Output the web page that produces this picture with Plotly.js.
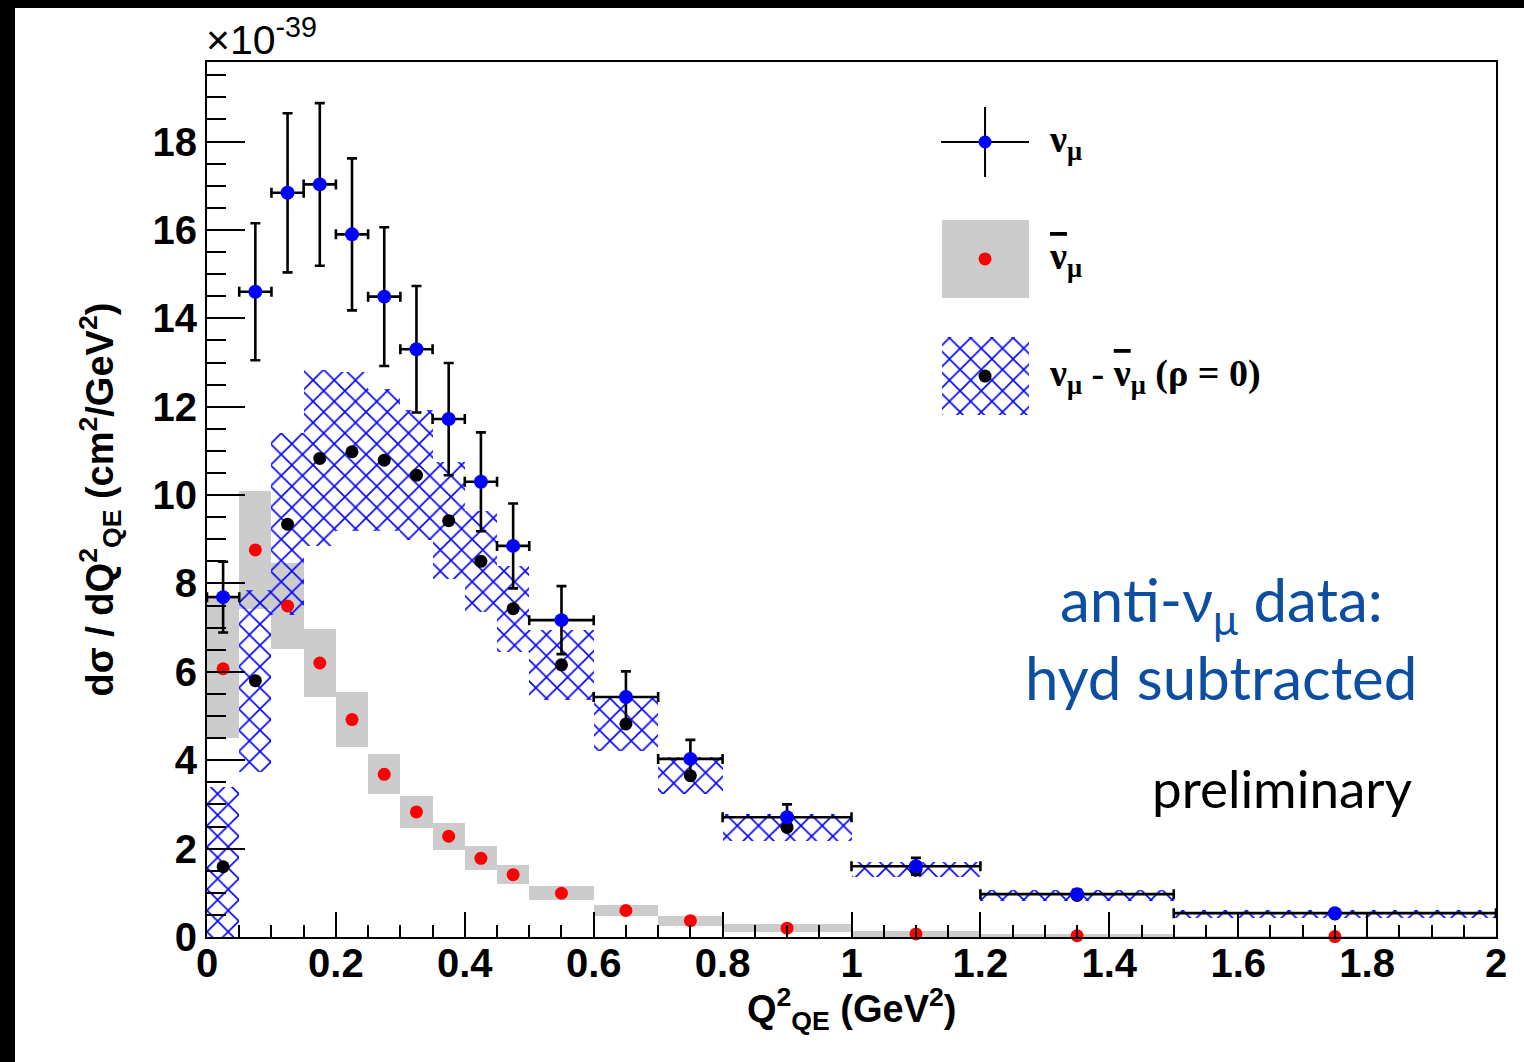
<!DOCTYPE html>
<html>
<head>
<meta charset="utf-8">
<script src="https://cdn.plot.ly/plotly-3.0.1.min.js"></script>
<style>
  html, body { margin: 0; padding: 0; background: #000; width: 1524px; height: 1062px; overflow: hidden; }
  #plot { position: absolute; left: 15px; top: 8px; width: 1509px; height: 1054px; background: #fff; }
</style>
</head>
<body>
<div id="plot"></div>
<script>
// ---- Data (values in units of 1e-39 cm^2/GeV^2) ----
const binLow  = [0.00, 0.05, 0.10, 0.15, 0.20, 0.25, 0.30, 0.35, 0.40, 0.45, 0.50, 0.60, 0.70, 0.80, 1.00, 1.20, 1.50];
const binHigh = [0.05, 0.10, 0.15, 0.20, 0.25, 0.30, 0.35, 0.40, 0.45, 0.50, 0.60, 0.70, 0.80, 1.00, 1.20, 1.50, 2.00];

const numu      = [7.69, 14.60, 16.84, 17.03, 15.90, 14.49, 13.30, 11.72, 10.30, 8.85, 7.17, 5.43, 4.03, 2.71, 1.60, 0.97, 0.54];
const numuErr   = [0.80, 1.55, 1.80, 1.84, 1.72, 1.57, 1.43, 1.27, 1.12, 0.96, 0.77, 0.58, 0.43, 0.29, 0.19, 0.10, 0.05];

const antinumu    = [6.07, 8.76, 7.49, 6.20, 4.92, 3.68, 2.83, 2.28, 1.78, 1.41, 0.99, 0.60, 0.37, 0.20, 0.07, 0.03, 0.01];
const antinumuErr = [1.57, 1.33, 0.97, 0.76, 0.62, 0.45, 0.36, 0.31, 0.27, 0.22, 0.16, 0.13, 0.11, 0.09, 0.07, 0.03, 0.01];

const diff    = [1.59, 5.80, 9.34, 10.83, 10.98, 10.79, 10.45, 9.42, 8.50, 7.43, 6.16, 4.82, 3.65, 2.48, 1.52, 0.94, 0.52];
const diffErr = [1.80, 2.06, 2.06, 1.99, 1.80, 1.60, 1.47, 1.33, 1.14, 0.97, 0.79, 0.60, 0.42, 0.30, 0.17, 0.12, 0.08];

const xTickVals = [0, 0.2, 0.4, 0.6, 0.8, 1, 1.2, 1.4, 1.6, 1.8, 2];
const xTickText = ['0', '0.2', '0.4', '0.6', '0.8', '1', '1.2', '1.4', '1.6', '1.8', '2'];
const yTickVals = [0, 2, 4, 6, 8, 10, 12, 14, 16, 18];
const yTickText = ['0', '2', '4', '6', '8', '10', '12', '14', '16', '18'];

const legendLabels = [
  'ν<sub>μ</sub>',
  '<span style="text-decoration:overline">ν</span><sub>μ</sub>',
  'ν<sub>μ</sub> - <span style="text-decoration:overline">ν</span><sub>μ</sub> (ρ = 0)'
];

// ---- derived bin geometry ----
const centers = binLow.map((lo, i) => (lo + binHigh[i]) / 2);
const widths  = binLow.map((lo, i) => binHigh[i] - lo);
const halfW   = widths.map(w => w / 2);

const HATCH = { shape: 'x', fgcolor: '#0000ff', bgcolor: 'rgba(0,0,0,0)', size: 15, solidity: 0.2, fillmode: 'replace' };
const GRAY = '#cccccc';

const traces = [];

// anti-numu boxes (gray)
traces.push({
  type: 'bar', x: centers, width: widths,
  base: antinumu.map((v, i) => v - antinumuErr[i]),
  y: antinumuErr.map(e => 2 * e),
  marker: { color: GRAY, line: { width: 0 } },
  hoverinfo: 'skip', showlegend: false
});
// difference boxes (hatched)
traces.push({
  type: 'bar', x: centers, width: widths,
  base: diff.map((v, i) => v - diffErr[i]),
  y: diffErr.map(e => 2 * e),
  marker: { color: 'rgba(0,0,0,0)', line: { width: 0 }, pattern: HATCH },
  hoverinfo: 'skip', showlegend: false
});
// anti-numu points
traces.push({
  type: 'scatter', mode: 'markers', x: centers, y: antinumu,
  marker: { color: '#ff0000', size: 13 }, cliponaxis: false, showlegend: false
});
// difference points
traces.push({
  type: 'scatter', mode: 'markers', x: centers, y: diff,
  marker: { color: '#000000', size: 13 }, cliponaxis: false, showlegend: false
});
// numu points with error bars
traces.push({
  type: 'scatter', mode: 'markers', x: centers, y: numu,
  error_y: { type: 'data', array: numuErr, visible: true, color: '#000', thickness: 2.6, width: 5 },
  error_x: { type: 'data', array: halfW, visible: true, color: '#000', thickness: 2.6, width: 5 },
  marker: { color: '#0000ff', size: 14 }, cliponaxis: false, showlegend: false
});

// ---- legend drawn on an overlay axis in plot-fraction units ----
const LEG = { x: 0.6036, w: 0.0675, y1: 0.9086, y2: 0.7749, y3: 0.6411, h: 0.0897, textX: 0.652 };
traces.push({
  type: 'scatter', mode: 'markers', xaxis: 'x2', yaxis: 'y2',
  x: [LEG.x], y: [LEG.y1],
  error_x: { type: 'constant', value: 0.0341, color: '#000', thickness: 2, width: 0 },
  error_y: { type: 'constant', value: 0.040, color: '#000', thickness: 2, width: 0 },
  marker: { color: '#0000ff', size: 13 }, showlegend: false, hoverinfo: 'skip'
});
traces.push({
  type: 'bar', xaxis: 'x2', yaxis: 'y2', x: [LEG.x], width: [LEG.w],
  base: [LEG.y2 - LEG.h / 2], y: [LEG.h],
  marker: { color: GRAY, line: { width: 0 } }, showlegend: false, hoverinfo: 'skip'
});
traces.push({
  type: 'bar', xaxis: 'x2', yaxis: 'y2', x: [LEG.x], width: [LEG.w],
  base: [LEG.y3 - LEG.h / 2], y: [LEG.h],
  marker: { color: 'rgba(0,0,0,0)', line: { width: 0 }, pattern: HATCH }, showlegend: false, hoverinfo: 'skip'
});
traces.push({
  type: 'scatter', mode: 'markers', xaxis: 'x2', yaxis: 'y2',
  x: [LEG.x], y: [LEG.y2], marker: { color: '#ff0000', size: 13 }, showlegend: false, hoverinfo: 'skip'
});
traces.push({
  type: 'scatter', mode: 'markers', xaxis: 'x2', yaxis: 'y2',
  x: [LEG.x], y: [LEG.y3], marker: { color: '#000000', size: 13 }, showlegend: false, hoverinfo: 'skip'
});

const tickFont = { family: 'Liberation Sans, Arial, sans-serif', size: 40, color: '#000', weight: 'bold' };
const titleFont = { family: 'Liberation Sans, Arial, sans-serif', size: 38, color: '#000', weight: 'bold' };
const legFont = { family: 'Liberation Serif, Times New Roman, serif', size: 38, color: '#000', weight: 'bold' };
const blueFont = { family: 'Lato, Open Sans, sans-serif', size: 60, color: '#0b4ea2' };

const layout = {
  width: 1509, height: 1054,
  paper_bgcolor: '#ffffff', plot_bgcolor: '#ffffff',
  margin: { l: 192, r: 28, t: 54, b: 125, pad: 0 },
  barmode: 'overlay', bargap: 0,
  showlegend: false,
  xaxis: {
    range: [0, 2], tickmode: 'array', tickvals: xTickVals, ticktext: xTickText,
    ticks: 'inside', ticklen: 25, tickwidth: 2, tickcolor: '#000',
    minor: { dtick: 0.05, tick0: 0, ticks: 'inside', ticklen: 12, tickwidth: 2, tickcolor: '#000', showgrid: false },
    showline: true, linewidth: 2, linecolor: '#000', mirror: true,
    showgrid: false, zeroline: false, tickfont: tickFont, ticklabelstandoff: -10
  },
  yaxis: {
    range: [0, 19.8], tickmode: 'array', tickvals: yTickVals, ticktext: yTickText,
    ticks: 'inside', ticklen: 38, tickwidth: 2, tickcolor: '#000',
    minor: { dtick: 0.5, tick0: 0, ticks: 'inside', ticklen: 19, tickwidth: 2, tickcolor: '#000', showgrid: false },
    showline: true, linewidth: 2, linecolor: '#000', mirror: true,
    showgrid: false, zeroline: false, tickfont: tickFont, ticklabelstandoff: 0
  },
  xaxis2: { overlaying: 'x', anchor: 'y2', range: [0, 1], visible: false, fixedrange: true },
  yaxis2: { overlaying: 'y', anchor: 'x2', range: [0, 1], visible: false, fixedrange: true },
  annotations: [
    { xref: 'paper', yref: 'paper', x: -0.002, y: 1.028, xanchor: 'left', yanchor: 'middle', showarrow: false,
      text: '×10<sup>-39</sup>', font: { family: 'Liberation Sans, Arial, sans-serif', size: 41, color: '#000' } },
    { xref: 'paper', yref: 'paper', x: -0.083, y: 0.50, xanchor: 'center', yanchor: 'middle', showarrow: false, textangle: -90,
      text: 'dσ / dQ<sup>2</sup><sub>QE</sub> (cm<sup>2</sup>/GeV<sup>2</sup>)', font: titleFont },
    { xref: 'paper', yref: 'paper', x: 0.5, y: -0.082, xanchor: 'center', yanchor: 'middle', showarrow: false,
      text: 'Q<sup>2</sup><sub>QE</sub> (GeV<sup>2</sup>)', font: titleFont },
    { xref: 'paper', yref: 'paper', x: LEG.textX, y: LEG.y1, xanchor: 'left', yanchor: 'middle', showarrow: false,
      text: legendLabels[0], font: legFont },
    { xref: 'paper', yref: 'paper', x: LEG.textX, y: LEG.y2, xanchor: 'left', yanchor: 'middle', showarrow: false,
      text: legendLabels[1], font: legFont },
    { xref: 'paper', yref: 'paper', x: LEG.textX, y: LEG.y3, xanchor: 'left', yanchor: 'middle', showarrow: false,
      text: legendLabels[2], font: legFont },
    { xref: 'paper', yref: 'paper', x: 0.7867, y: 0.3817, xanchor: 'center', yanchor: 'middle', showarrow: false,
      text: 'anti-ν<sub>μ</sub> data:', font: blueFont },
    { xref: 'paper', yref: 'paper', x: 0.7867, y: 0.2971, xanchor: 'center', yanchor: 'middle', showarrow: false,
      text: 'hyd subtracted', font: blueFont },
    { xref: 'paper', yref: 'paper', x: 0.834, y: 0.1703, xanchor: 'center', yanchor: 'middle', showarrow: false,
      text: 'preliminary', font: { family: 'Lato, Open Sans, sans-serif', size: 53, color: '#000' } }
  ]
};

Plotly.newPlot('plot', traces, layout, { displayModeBar: false, staticPlot: true });
</script>
</body>
</html>
